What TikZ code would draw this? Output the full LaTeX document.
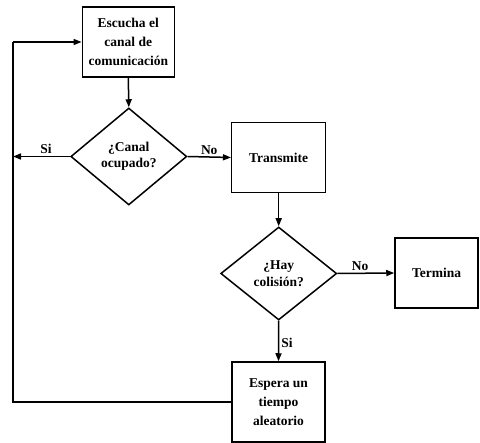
\documentclass[tikz,border=0pt]{standalone}
\usepackage{fontspec}
\setmainfont{Liberation Serif}
\usetikzlibrary{arrows.meta,shapes.geometric}

\tikzset{
  stepbox/.style={draw, line width=1.5pt, align=center, inner sep=0pt,
    font=\bfseries\fontsize{13.5}{19}\selectfont},
  decision/.style={draw, diamond, line width=1.5pt, align=center, inner sep=0pt,
    font=\bfseries\fontsize{13.5}{16.5}\selectfont},
  flow/.style={line width=1.5pt, -{Triangle[length=8pt,width=6pt]}},
  plain/.style={line width=1.5pt},
  answer/.style={font=\bfseries\fontsize{13.5}{16}\selectfont, inner sep=2pt}
}

\begin{document}
\begin{tikzpicture}[x=1pt, y=-1pt]
  \useasboundingbox (0,0) rectangle (480,443);

  % process steps and decisions
  \node[stepbox, minimum width=92pt, minimum height=70pt] (listen) at (128.3,42)
    {Escucha el\\canal de\\comunicación};
  \node[decision, minimum width=116pt, minimum height=97pt] (busy) at (128.8,156.5)
    {¿Canal\\ocupado?};
  \node[stepbox, minimum width=94pt, minimum height=70pt] (send) at (278.7,157.5)
    {Transmite};
  \node[decision, minimum width=116pt, minimum height=93pt] (coll) at (278.7,273.5)
    {¿Hay\\colisión?};
  \node[stepbox, minimum width=83pt, minimum height=70pt] (done) at (436.5,273)
    {Termina};
  \node[stepbox, minimum width=93pt, minimum height=80pt] (wait) at (278.5,402)
    {Espera un\\tiempo\\aleatorio};

  % x position of the return path on the left
  \coordinate (loop) at (13,0);

  % connectors
  \draw[flow] (listen.south) -- (busy.north);
  \draw[flow] (busy.west) -- node[answer, above, pos=0.42] {Si} (busy.west -| loop);
  \draw[flow] (busy.east) -- node[answer, above] {No} (send.west);
  \draw[flow] (send.south) -- (coll.north);
  \draw[flow] (coll.east) -- node[answer, above, pos=0.4] {No} (done.west);
  \draw[flow] (coll.south) -- node[answer, right, pos=0.55] {Si} (wait.north);
  \draw[plain] (wait.west) -- (wait.west -| loop) -- (loop |- listen.west);
  \draw[flow] (loop |- listen.west) -- (listen.west);
\end{tikzpicture}
\end{document}
